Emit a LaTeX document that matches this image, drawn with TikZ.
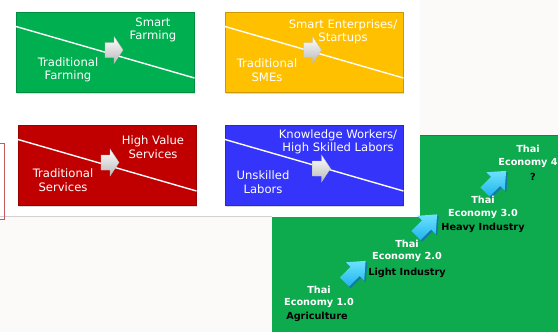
\documentclass[tikz,border=0pt]{standalone}
\usepackage{fontspec}
\setmainfont{DejaVu Sans}
\usetikzlibrary{calc,shadows}
\definecolor{bggray}{RGB}{251,250,248}
\definecolor{boxgreen}{RGB}{0,176,80}
\definecolor{boxyellow}{RGB}{255,192,0}
\definecolor{boxred}{RGB}{192,0,0}
\definecolor{boxblue}{RGB}{52,52,250}
\definecolor{panelgreen}{RGB}{14,170,78}
\definecolor{cyanmain}{RGB}{30,180,235}
\definecolor{cyanlight}{RGB}{110,225,255}
\definecolor{cyandark}{RGB}{20,120,170}
\definecolor{outlinered}{RGB}{200,90,90}
\begin{document}
\begin{tikzpicture}[x=1pt,y=-1pt,
  box/.style={rectangle, minimum width=178pt, minimum height=80pt, inner sep=0pt,
    anchor=north west, draw=#1!80!black, line width=0.5pt, fill=#1,
    drop shadow={opacity=0.3,shadow xshift=1pt,shadow yshift=-1.5pt}},
  btxt/.style={text=white, align=center, inner sep=0pt,
    font=\fontsize{11.6}{13.5}\selectfont},
  ttxt/.style={text=white, align=center, inner sep=0pt,
    font=\bfseries\fontsize{9.7}{12.5}\selectfont},
  ktxt/.style={text=black, align=center, inner sep=0pt,
    font=\bfseries\fontsize{9.7}{12.5}\selectfont},
  diag/.style={white, line width=1.4pt},
  boxarrow/.pic={
    \shade[top color=white, bottom color=gray!55, draw=gray!50, line width=0.3pt]
      (-9,-7.5) -- (0,-7.5) -- (0,-13.5) -- (9,0) -- (0,13.5) -- (0,7.5) -- (-9,7.5) -- cycle;
  },
  cyanarrow/.pic={
    \fill[cyandark, shift={(1.6,1.6)}, rotate=45]
      (-15,-6.5) -- (0,-6.5) -- (0,-13) -- (15,0) -- (0,13) -- (0,6.5) -- (-15,6.5) -- cycle;
    \shade[top color=cyanlight, bottom color=cyanmain, rotate=45]
      (-15,-6.5) -- (0,-6.5) -- (0,-13) -- (15,0) -- (0,13) -- (0,6.5) -- (-15,6.5) -- cycle;
  }
]
\useasboundingbox (0,0) rectangle (558,332);
\fill[bggray] (0,0) rectangle (558,332);
% green panel
\fill[panelgreen] (272,135) rectangle (558,332);
\draw[panelgreen!80!black, line width=0.6pt] (272,135.3) -- (558,135.3);
% white panel
\fill[white] (0,0) rectangle (420,216.5);
\draw[gray!35, line width=0.8pt] (0,216.8) -- (272,216.8);
% red outline at left
\draw[outlinered, line width=1pt] (-5,143) rectangle (4,219);

% boxes
\node[box=boxgreen] (g) at (16,12) {};
\node[box=boxyellow] (y) at (225,12) {};
\node[box=boxred] (r) at (18,125) {};
\node[box=boxblue] (b) at (225,125) {};

\foreach \n in {g,y,r,b}{
  \draw[diag] ($(\n.north west)!0.18!(\n.south west)$) -- ($(\n.north east)!0.82!(\n.south east)$);
}

\pic at (114,50) {boxarrow};
\pic at (312.5,50) {boxarrow};
\pic at (110,162.5) {boxarrow};
\pic at (321.5,168.5) {boxarrow};

\node[btxt] (g1) at (153,30) {Smart\\Farming};
\node[btxt] (g2) at (68,70) {Traditional\\Farming};
\node[btxt] (y1) at (343,32) {Smart Enterprises/\\Startups};
\node[btxt] (y2) at (267,70) {Traditional\\SMEs};
\node[btxt] (r1) at (153,147) {High Value\\Services};
\node[btxt] (r2) at (63,180) {Traditional\\Services};
\node[btxt] (b1) at (338,142) {Knowledge Workers/\\High Skilled Labors};
\node[btxt] (b2) at (263,182) {Unskilled\\Labors};

% Thai economy steps
\pic at (355,271.5) {cyanarrow};
\pic at (426.5,225) {cyanarrow};
\pic at (495.5,181.5) {cyanarrow};

\node[ttxt] (e1) at (319,297) {Thai\\Economy 1.0};
\node[ktxt] (k1) at (317,317) {Agriculture};
\node[ttxt] (e2) at (407,251) {Thai\\Economy 2.0};
\node[ktxt] (k2) at (407,273) {Light Industry};
\node[ttxt] (e3) at (483,207.5) {Thai\\Economy 3.0};
\node[ktxt] (k3) at (483,228) {Heavy Industry};
\node[ttxt] (e4) at (528,156.5) {Thai\\Economy 4};
\node[ktxt] (k4) at (533,177) {?};
\end{tikzpicture}
\end{document}
